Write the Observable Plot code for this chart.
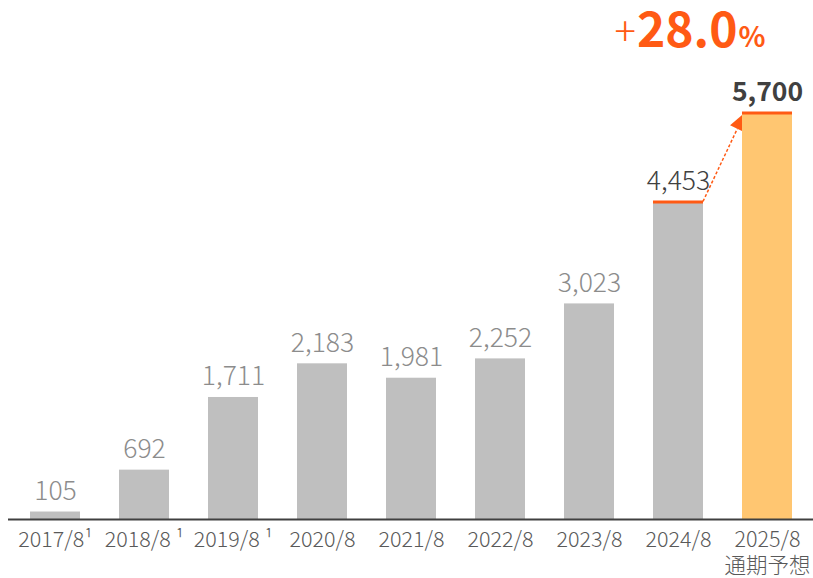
<!DOCTYPE html>
<html>
<head>
<meta charset="utf-8">
<script src="https://cdn.jsdelivr.net/npm/d3@7"></script>
<script src="https://cdn.jsdelivr.net/npm/@observablehq/plot@0.6"></script>
<style>
  html, body { margin: 0; padding: 0; background: #fff; }
  #chart svg { display: block; overflow: visible; }
</style>
</head>
<body>
<div id="chart"></div>
<script>
const categories = ["2017/8", "2018/8", "2019/8", "2020/8", "2021/8", "2022/8", "2023/8", "2024/8", "2025/8"];
const tickLabels = ["2017/8¹", "2018/8 ¹", "2019/8 ¹", "2020/8", "2021/8", "2022/8", "2023/8", "2024/8", "2025/8\n通期予想"];
const values = [105, 692, 1711, 2183, 1981, 2252, 3023, 4453, 5700];
const valueLabels = ["105", "692", "1,711", "2,183", "1,981", "2,252", "3,023", "4,453", "5,700"];
const forecastCategory = "2025/8";
const previousCategory = "2024/8";
const growthParts = ["+", "28.0", "%"];

const data = categories.map((c, i) => ({cat: c, value: values[i], label: valueLabels[i], tick: tickLabels[i]}));
const actual = data.filter(d => d.cat !== forecastCategory);
const forecast = data.filter(d => d.cat === forecastCategory);
const previous = data.filter(d => d.cat === previousCategory);
const older = data.filter(d => d.cat !== forecastCategory && d.cat !== previousCategory);
const highlight = data.filter(d => d.cat === forecastCategory || d.cat === previousCategory);
const tickMap = new Map(data.map(d => [d.cat, d.tick]));

const ORANGE = "#ff5a14";
const FONT = "'Noto Sans CJK JP', 'Noto Sans', sans-serif";

function arrowMark(index, scales) {
  const {x, y} = scales;
  const bw = x.bandwidth();
  const prev = data.find(d => d.cat === previousCategory);
  const fc = data.find(d => d.cat === forecastCategory);
  const x0 = x(prev.cat) + bw, y0 = y(prev.value);
  const x1 = x(fc.cat) + 3, y1 = y(fc.value);
  const dx = x1 - x0, dy = y1 - y0, len = Math.hypot(dx, dy);
  const ux = dx / len, uy = dy / len;
  const headLen = 18, headHalf = 8;
  const bx = x1 - ux * headLen, by = y1 - uy * headLen;
  const px = -uy, py = ux;
  const g = d3.create("svg:g");
  g.append("line")
    .attr("x1", x0).attr("y1", y0)
    .attr("x2", bx).attr("y2", by)
    .attr("stroke", ORANGE).attr("stroke-width", 1.5)
    .attr("stroke-dasharray", "3,2");
  g.append("path")
    .attr("d", `M${x1},${y1}L${bx + px * headHalf},${by + py * headHalf}L${bx - px * headHalf},${by - py * headHalf}Z`)
    .attr("fill", ORANGE);
  return g.node();
}

function growthMark(index, scales) {
  const {x, y} = scales;
  const bw = x.bandwidth();
  const fc = data.find(d => d.cat === forecastCategory);
  const cx = x(fc.cat) + bw / 2 - 77;
  const cy = y(fc.value) - 66;
  const t = d3.create("svg:text")
    .attr("x", cx).attr("y", cy)
    .attr("text-anchor", "middle")
    .attr("fill", ORANGE)
    .attr("font-family", FONT);
  t.append("tspan").attr("font-size", 40).attr("font-weight", 300).attr("dy", -1).text(growthParts[0]);
  t.append("tspan").attr("font-size", 48).attr("font-weight", 700).attr("dy", 1).attr("dx", 1).text(growthParts[1]);
  t.append("tspan").attr("font-size", 28).attr("font-weight", 700).attr("dx", 1).text(growthParts[2]);
  return t.node();
}

const labelOpts = {x: "cat", y: "value", text: "label", lineAnchor: "bottom", dy: -12, fontSize: 26.5};

const chart = Plot.plot({
  width: 813,
  height: 578,
  marginLeft: 8,
  marginRight: 0,
  marginTop: 112.5,
  marginBottom: 59,
  style: {fontFamily: FONT, background: "#fff", overflow: "visible"},
  x: {type: "band", domain: categories, paddingInner: 0.44, paddingOuter: 0.22, label: null},
  y: {domain: [0, 5700], axis: null, label: null},
  marks: [
    Plot.barY(actual, {x: "cat", y: "value", fill: "#bfbfbf"}),
    arrowMark,
    Plot.barY(forecast, {x: "cat", y: "value", fill: "#ffc671"}),
    Plot.tickY(highlight, {x: "cat", y: "value", stroke: ORANGE, strokeWidth: 3}),
    Plot.ruleY([0], {stroke: "#404040", strokeWidth: 2}),
    Plot.text(older, {...labelOpts, fontWeight: 300, fill: "#8c8c8c"}),
    Plot.text(previous, {...labelOpts, fontWeight: 300, fill: "#404040"}),
    Plot.text(forecast, {...labelOpts, fontWeight: 700, fill: "#404040"}),
    growthMark,
    Plot.axisX({
      tickSize: 0, tickPadding: 8, fontSize: 21.5, lineHeight: 1.25, fontWeight: 300,
      tickFormat: d => tickMap.get(d), fill: "#595959", label: null
    })
  ]
});
document.getElementById("chart").appendChild(chart);
</script>
</body>
</html>
